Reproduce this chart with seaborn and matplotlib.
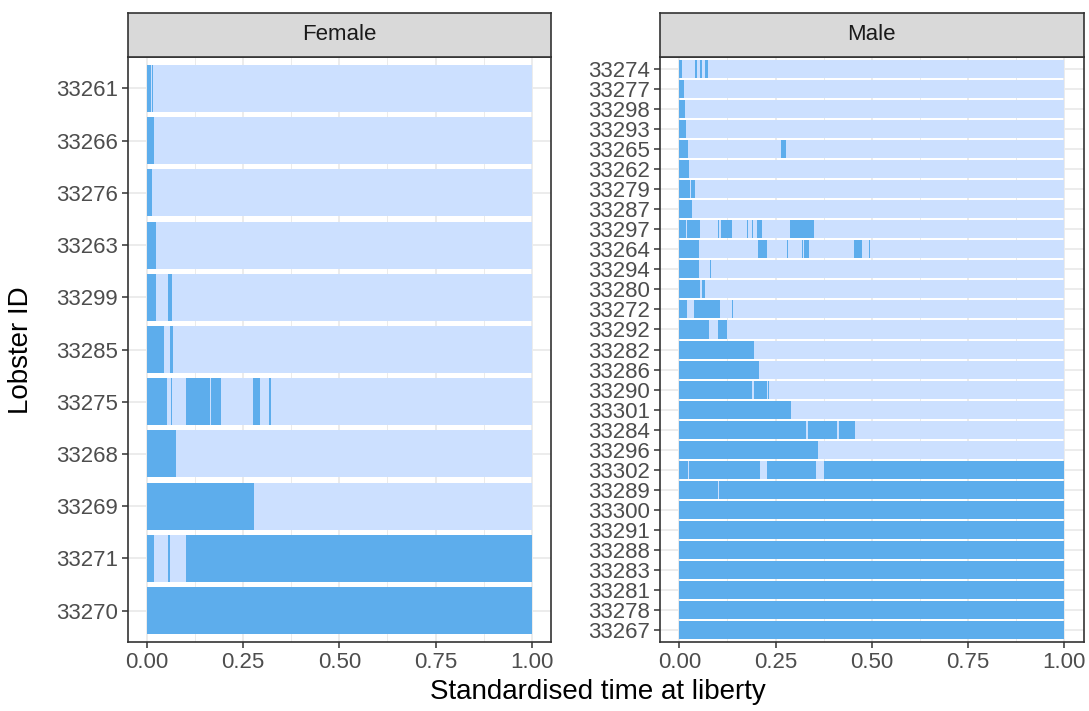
import matplotlib
matplotlib.use("Agg")
import matplotlib.pyplot as plt
from matplotlib.ticker import MultipleLocator
import seaborn as sns
import pandas as pd

# ---------------- data ----------------
female_ids = ["33261", "33266", "33276", "33263", "33299", "33285", "33275",
              "33268", "33269", "33271", "33270"]
female_segments = [
    [(0, 0.011), (0.0125, 0.017)],
    [(0, 0.020)],
    [(0, 0.014)],
    [(0, 0.023)],
    [(0, 0.023), (0.055, 0.065)],
    [(0, 0.045), (0.060, 0.069)],
    [(0, 0.053), (0.0625, 0.0645), (0.102, 0.165), (0.166, 0.194), (0.277, 0.294), (0.318, 0.323)],
    [(0, 0.075)],
    [(0, 0.278)],
    [(0, 0.020), (0.054, 0.060), (0.102, 1.0)],
    [(0, 1.0)],
]

male_ids = ["33274", "33277", "33298", "33293", "33265", "33262", "33279", "33287",
            "33297", "33264", "33294", "33280", "33272", "33292", "33282", "33286",
            "33290", "33301", "33284", "33296", "33302", "33289", "33300", "33291",
            "33288", "33283", "33281", "33278", "33267"]
male_segments = [
    [(0, 0.008), (0.040, 0.047), (0.053, 0.060), (0.066, 0.075)],
    [(0, 0.011)],
    [(0, 0.016)],
    [(0, 0.018)],
    [(0, 0.022), (0.265, 0.278)],
    [(0, 0.026)],
    [(0, 0.029), (0.031, 0.041)],
    [(0, 0.033)],
    [(0, 0.018), (0.020, 0.055), (0.100, 0.1025), (0.108, 0.138), (0.176, 0.178),
     (0.189, 0.191), (0.203, 0.216), (0.288, 0.349)],
    [(0, 0.048), (0.049, 0.051), (0.204, 0.229), (0.279, 0.282), (0.319, 0.3205),
     (0.324, 0.338), (0.372, 0.3735), (0.453, 0.475), (0.493, 0.496)],
    [(0, 0.051), (0.080, 0.0815), (0.105, 0.1065)],
    [(0, 0.055), (0.059, 0.067)],
    [(0, 0.020), (0.039, 0.106), (0.136, 0.139)],
    [(0, 0.076), (0.101, 0.124)],
    [(0, 0.195)],
    [(0, 0.206)],
    [(0, 0.189), (0.195, 0.228), (0.230, 0.234)],
    [(0, 0.291)],
    [(0, 0.329), (0.334, 0.410), (0.416, 0.457)],
    [(0, 0.360)],
    [(0, 0.023), (0.026, 0.210), (0.229, 0.354), (0.375, 1.0)],
    [(0, 0.101), (0.1028, 1.0)],
    [(0, 1.0)], [(0, 1.0)], [(0, 1.0)], [(0, 1.0)], [(0, 1.0)], [(0, 1.0)], [(0, 1.0)],
]

panel_titles = ["Female", "Male"]
x_ticks = [0.0, 0.25, 0.5, 0.75, 1.0]
x_tick_labels = ["0.00", "0.25", "0.50", "0.75", "1.00"]

# ---------------- style ----------------
sns.set_theme(style="white")
plt.rcParams["font.family"] = ["Liberation Sans", "DejaVu Sans"]

LIGHT = "#CCE0FF"
DARK = "#5DADEC"
BORDER = "#333333"
GRID = "#EBEBEB"

fig = plt.figure(figsize=(10.89, 7.11), dpi=100)

ax_w = 0.3889
ax_b = 0.097
ax_h = 0.8228
lefts = [0.1171, 0.6061]
strip_h = 0.0626

for left, ids, segs, title in zip(lefts, [female_ids, male_ids],
                                  [female_segments, male_segments], panel_titles):
    ax = fig.add_axes([left, ax_b, ax_w, ax_h])
    bg = pd.DataFrame({"id": ids, "time": [1.0] * len(ids)})
    sns.barplot(data=bg, x="time", y="id", order=ids, orient="h", color=LIGHT,
                saturation=1, width=0.9, errorbar=None, linewidth=0, ax=ax, zorder=2)
    for i, row in enumerate(segs):
        starts = [s for s, e in row]
        widths = [e - s for s, e in row]
        ax.barh([i] * len(row), widths, left=starts, height=0.9, color=DARK,
                linewidth=0, zorder=3)
    n = len(ids)
    ax.set_xlim(-0.05, 1.05)
    ax.set_ylim(n - 1 + 0.6, -0.6)
    ax.set_xticks(x_ticks)
    ax.set_xticklabels(x_tick_labels)
    ax.xaxis.set_minor_locator(MultipleLocator(0.125))
    ax.set_axisbelow(True)
    ax.grid(True, which="major", axis="both", color=GRID, linewidth=1.3, zorder=0)
    ax.grid(True, which="minor", axis="x", color=GRID, linewidth=0.7, zorder=0)
    ax.tick_params(axis="both", which="major", direction="out", length=4.5, width=1.1,
                   color=BORDER, labelsize=16, labelcolor="#4D4D4D", pad=2.5,
                   left=True, bottom=True)
    ax.tick_params(axis="x", which="minor", length=0)
    ax.set_xlabel("")
    ax.set_ylabel("")
    for sp in ax.spines.values():
        sp.set_color(BORDER)
        sp.set_linewidth(1.2)
        sp.set_visible(True)
    ax.set_facecolor("white")

    sax = fig.add_axes([left, ax_b + ax_h, ax_w, strip_h])
    sax.set_facecolor("#D9D9D9")
    sax.set_xticks([])
    sax.set_yticks([])
    for sp in sax.spines.values():
        sp.set_color(BORDER)
        sp.set_linewidth(1.2)
    sax.text(0.5, 0.5, title, ha="center", va="center", fontsize=16, color="#1A1A1A",
             transform=sax.transAxes)

fig.text(0.549, 0.027, "Standardised time at liberty", ha="center", va="center",
         fontsize=20, color="black")
fig.text(0.019, 0.508, "Lobster ID", ha="center", va="center", rotation=90,
         fontsize=20, color="black")

fig.savefig("out.png", dpi=100, facecolor="white")
